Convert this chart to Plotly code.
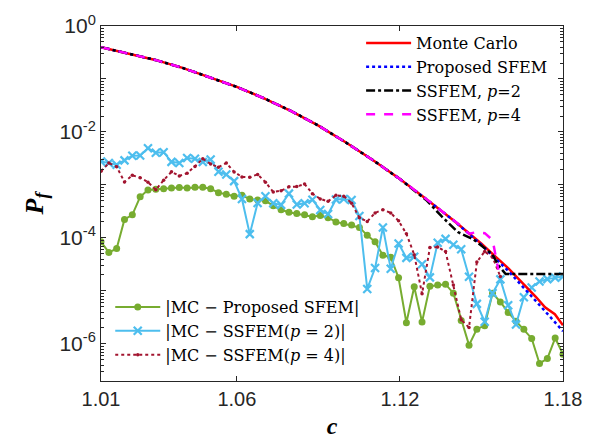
import numpy as np
import plotly.graph_objects as go

# ---- main curves -------------------------------------------------------
c_mc = [1.01, 1.02, 1.03, 1.04, 1.05, 1.06, 1.07, 1.08, 1.09, 1.10, 1.11, 1.12,
        1.13, 1.14, 1.15, 1.16, 1.17, 1.1734, 1.177, 1.18]
pf_mc = [0.398, 0.305, 0.229, 0.162, 0.108, 0.0708, 0.0432, 0.0248, 0.0132,
         6.38e-3, 2.95e-3, 1.29e-3, 5.25e-4, 2.09e-4, 7.76e-5, 2.63e-5, 7.76e-6,
         4.90e-6, 3.63e-6, 2.24e-6]

c_sfem = [1.01, 1.02, 1.03, 1.04, 1.05, 1.06, 1.07, 1.08, 1.09, 1.10, 1.11, 1.12,
          1.13, 1.14, 1.15, 1.16, 1.17, 1.18]
pf_sfem = [0.398, 0.305, 0.229, 0.162, 0.108, 0.0708, 0.0432, 0.0248, 0.0132,
           6.38e-3, 2.95e-3, 1.29e-3, 5.25e-4, 2.09e-4, 7.41e-5, 2.34e-5, 6.46e-6,
           1.74e-6]

c_p2 = [1.01, 1.02, 1.03, 1.04, 1.05, 1.06, 1.07, 1.08, 1.09, 1.10, 1.11, 1.12,
        1.13, 1.1353, 1.1413, 1.1449, 1.1468, 1.1504, 1.154, 1.1564, 1.1589, 1.18]
pf_p2 = [0.398, 0.305, 0.229, 0.162, 0.108, 0.0708, 0.0432, 0.0248, 0.0132,
         6.38e-3, 2.95e-3, 1.29e-3, 5.01e-4, 2.57e-4, 1.29e-4, 1.05e-4, 9.55e-5,
         6.92e-5, 4.90e-5, 2.95e-5, 2.09e-5, 2.09e-5]

c_p4 = [1.01, 1.02, 1.03, 1.04, 1.05, 1.06, 1.07, 1.08, 1.09, 1.10, 1.11, 1.12,
        1.13, 1.14, 1.1426, 1.1454, 1.1483, 1.1512, 1.1541, 1.1562]
pf_p4 = [0.398, 0.305, 0.229, 0.162, 0.108, 0.0708, 0.0432, 0.0248, 0.0132,
         6.38e-3, 2.95e-3, 1.29e-3, 5.25e-4, 2.09e-4, 1.66e-4, 1.20e-4, 1.29e-4,
         1.23e-4, 9.12e-5, 2.51e-5]

# ---- absolute errors ----------------------------------------------------
c_err = np.linspace(1.01, 1.18, 60)

err_sfem = [8.46e-5, 5.33e-5, 6.31e-5, 2.24e-4, 2.73e-4, 5.97e-4, 8.01e-4, 8.28e-4,
            8.46e-4, 8.75e-4, 8.93e-4, 8.75e-4, 9.01e-4, 9.08e-4, 8.46e-4, 7.16e-4,
            6.67e-4, 6.12e-4, 6.38e-4, 5.41e-4, 5.19e-4, 5.06e-4, 4.03e-4, 3.41e-4,
            3.06e-4, 2.88e-4, 2.73e-4, 2.51e-4, 2.65e-4, 2.41e-4, 2.01e-4, 1.87e-4,
            1.75e-4, 1.58e-4, 1.12e-4, 8.46e-5, 4.71e-5, 4.33e-5, 1.77e-5, 2.51e-6,
            1.20e-5, 2.59e-6, 1.23e-5, 1.29e-5, 1.34e-5, 9.08e-6, 2.77e-6, 9.47e-7,
            1.90e-6, 2.21e-6, 9.08e-6, 6.18e-6, 3.93e-6, 2.67e-6, 1.89e-6, 1.27e-6,
            4.28e-7, 5.30e-7, 1.29e-6, 6.38e-7]

err_p2 = [2.77e-3, 2.59e-3, 2.41e-3, 2.91e-3, 3.56e-3, 3.60e-3, 4.91e-3, 4.06e-3,
          4.15e-3, 2.73e-3, 2.59e-3, 3.23e-3, 3.13e-3, 2.71e-3, 3.02e-3, 1.77e-3,
          1.58e-3, 1.18e-3, 5.45e-4, 1.18e-4, 4.57e-4, 6.12e-4, 4.52e-4, 4.21e-4,
          6.86e-4, 4.27e-4, 4.52e-4, 5.27e-4, 3.37e-4, 2.82e-4, 5.33e-4, 5.45e-4,
          5.19e-4, 2.59e-4, 1.09e-5, 2.70e-5, 1.58e-4, 2.62e-5, 7.88e-5, 4.21e-5,
          4.42e-5, 3.19e-5, 1.80e-5, 8.11e-5, 9.59e-5, 7.46e-5, 6.10e-5, 1.85e-5,
          5.69e-6, 2.62e-6, 9.08e-6, 1.65e-5, 5.38e-6, 2.33e-6, 7.62e-6, 1.16e-5,
          1.51e-5, 1.67e-5, 1.78e-5, 1.87e-5]

err_p4 = [1.82e-3, 2.59e-3, 2.21e-3, 1.14e-3, 1.52e-3, 1.37e-3, 1.13e-3, 8.11e-4,
          1.23e-3, 1.77e-3, 1.48e-3, 1.67e-3, 2.24e-3, 3.13e-3, 2.48e-3, 2.17e-3,
          2.59e-3, 1.76e-3, 1.42e-3, 1.40e-3, 1.58e-3, 1.13e-3, 7.36e-4, 7.78e-4,
          9.20e-4, 9.31e-4, 1.04e-3, 6.86e-4, 5.45e-4, 4.91e-4, 6.38e-4, 6.12e-4,
          4.52e-4, 2.41e-4, 2.04e-4, 2.97e-4, 3.41e-4, 2.97e-4, 2.10e-4, 1.20e-4,
          4.84e-5, 8.81e-6, 6.58e-5, 6.71e-5, 5.56e-5, 1.29e-5, 2.85e-6, 2.04e-6,
          3.51e-5, 5.56e-5, 4.33e-5, 1.87e-5]

x_ticks = [1.01, 1.06, 1.12, 1.18]
x_ticklabels = ["1.01", "1.06", "1.12", "1.18"]
y_ticks = [1, 1e-1, 1e-2, 1e-3, 1e-4, 1e-5, 1e-6]
y_ticklabels = ["10<sup>0</sup>", "", "10<sup>-2</sup>", "", "10<sup>-4</sup>", "", "10<sup>-6</sup>"]

SERIF = "Liberation Serif"
LEG = "DejaVu Serif"
SANS = "Liberation Sans"

fig = go.Figure()

# error curves (drawn first, bottom legend)
fig.add_trace(go.Scatter(
    x=c_err, y=err_sfem, mode="lines+markers", name="|MC − Proposed SFEM|",
    line=dict(color="#77AC30", width=2), marker=dict(symbol="circle", size=7, color="#77AC30"),
    legend="legend2"))
fig.add_trace(go.Scatter(
    x=c_err, y=err_p2, mode="lines+markers", name="|MC − SSFEM(<i>p</i> = 2)|",
    line=dict(color="#4DBEEE", width=2),
    marker=dict(symbol="x-thin", size=8, color="#4DBEEE", line=dict(width=2.2, color="#4DBEEE")),
    legend="legend2"))
fig.add_trace(go.Scatter(
    x=c_err[:len(err_p4)], y=err_p4, mode="lines+markers", name="|MC − SSFEM(<i>p</i> = 4)|",
    line=dict(color="#A2142F", width=2, dash="dot"), marker=dict(symbol="circle", size=3.5, color="#A2142F"),
    legend="legend2"))

# main curves
fig.add_trace(go.Scatter(x=c_mc, y=pf_mc, mode="lines", name="Monte Carlo",
                         line=dict(color="#FF0000", width=2.5), legend="legend"))
fig.add_trace(go.Scatter(x=c_sfem, y=pf_sfem, mode="lines", name="Proposed SFEM",
                         line=dict(color="#0000FF", width=2.5, dash="dot"), legend="legend"))
fig.add_trace(go.Scatter(x=c_p2, y=pf_p2, mode="lines", name="SSFEM, <i>p</i>=2",
                         line=dict(color="#000000", width=2.5, dash="dashdot"), legend="legend"))
fig.add_trace(go.Scatter(x=c_p4, y=pf_p4, mode="lines", name="SSFEM, <i>p</i>=4",
                         line=dict(color="#FF00FF", width=2.5, dash="dash"), legend="legend"))

minor_y = [k * 10.0 ** e for e in range(-7, 0) for k in range(2, 10)]

fig.update_layout(
    width=594, height=447,
    margin=dict(l=101, r=24, t=16, b=64),
    paper_bgcolor="white", plot_bgcolor="white",
    showlegend=True,
    xaxis=dict(
        range=[1.01, 1.18], tickmode="array", tickvals=x_ticks, ticktext=x_ticklabels,
        ticks="inside", ticklen=5, tickcolor="#262626", showline=True, linecolor="#262626",
        linewidth=1, mirror="ticks", showgrid=False, zeroline=False,
        tickfont=dict(family=SANS, size=20, color="#262626"),
        title=dict(text="<b><i>c</i></b>", font=dict(family=SERIF, size=24, color="black"), standoff=8),
    ),
    yaxis=dict(
        type="log", range=[-6.7, 0], tickmode="array", tickvals=y_ticks, ticktext=y_ticklabels,
        ticks="inside", ticklen=5, tickcolor="#262626", showline=True, linecolor="#262626",
        linewidth=1, mirror="ticks", showgrid=False, zeroline=False,
        tickfont=dict(family=SANS, size=21, color="#262626"),
        minor=dict(tickmode="array", tickvals=minor_y, ticks="inside", ticklen=3, tickcolor="#262626"),
        title=dict(text="<b><i>P</i></b><sub><b><i>f</i></b></sub>",
                   font=dict(family=SERIF, size=26, color="black"), standoff=8),
    ),
    legend=dict(x=0.563, y=1.0, xanchor="left", yanchor="top", bgcolor="rgba(255,255,255,0)",
                font=dict(family=LEG, size=16, color="black"), itemwidth=45, tracegroupgap=0),
    legend2=dict(x=0.02, y=0.025, xanchor="left", yanchor="bottom", bgcolor="rgba(255,255,255,0)",
                 font=dict(family=LEG, size=16, color="black"), itemwidth=45, tracegroupgap=0),
)

fig.write_html("out.html")
